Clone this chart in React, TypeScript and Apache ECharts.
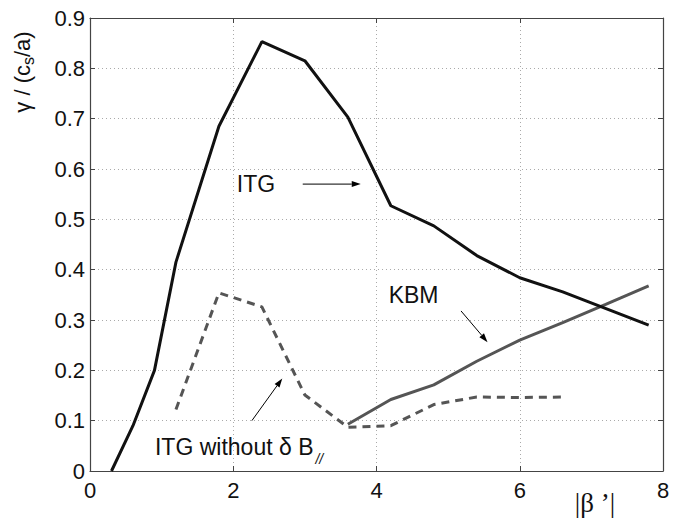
import React, { useEffect, useRef } from "react";
import * as echarts from "echarts";

// Growth rate gamma / (c_s/a) versus |beta'| for three branches
const itgBeta = [0.3, 0.6, 0.9, 1.2, 1.8, 2.4, 3.0, 3.6, 4.2, 4.8, 5.4, 6.0, 6.6, 7.8];
const itgGamma = [0, 0.09, 0.2, 0.415, 0.685, 0.853, 0.815, 0.703, 0.527, 0.487, 0.428, 0.384, 0.356, 0.29];

const kbmBeta = [3.6, 4.2, 4.8, 5.4, 6.0, 6.6, 7.2, 7.8];
const kbmGamma = [0.093, 0.142, 0.171, 0.218, 0.26, 0.295, 0.331, 0.368];

const itgNoBparBeta = [1.2, 1.8, 2.4, 3.0, 3.6, 4.2, 4.8, 5.4, 6.0, 6.6];
const itgNoBparGamma = [0.122, 0.354, 0.326, 0.151, 0.087, 0.09, 0.132, 0.147, 0.146, 0.147];

const xTicks = { min: 0, max: 8, step: 2 };
const yTicks = { min: 0, max: 0.9, step: 0.1 };

// Annotation anchors, in data units
const itgNote = { text: "ITG", at: [2.05, 0.57], from: [2.97, 0.57], to: [3.78, 0.57] };
const kbmNote = { text: "KBM", at: [4.17, 0.35], from: [5.18, 0.318], to: [5.55, 0.256] };
const noBparNote = { text: "ITG without \u03b4 B", sub: "//", at: [0.907, 0.048], from: [2.26, 0.1], to: [2.685, 0.184] };

const SANS = "'Liberation Sans', Arial, Helvetica, sans-serif";
const SERIF = "'Liberation Serif', 'Times New Roman', serif";
const AXIS = "#444";

const pair = (xs: number[], ys: number[]) => xs.map((x, i) => [x, ys[i]]);

function measure(text: string, font: string): number {
  const ctx = document.createElement("canvas").getContext("2d");
  if (!ctx) return text.length * 10;
  ctx.font = font;
  return ctx.measureText(text).width;
}

function arrow(p0: number[], p1: number[]) {
  const dx = p1[0] - p0[0];
  const dy = p1[1] - p0[1];
  const len = Math.hypot(dx, dy) || 1;
  const ux = dx / len;
  const uy = dy / len;
  const hl = 9;
  const hw = 3;
  const bx = p1[0] - ux * hl;
  const by = p1[1] - uy * hl;
  return [
    {
      type: "line",
      shape: { x1: p0[0], y1: p0[1], x2: bx, y2: by },
      style: { stroke: "#000", lineWidth: 1 },
      silent: true,
    },
    {
      type: "polygon",
      shape: {
        points: [
          [p1[0], p1[1]],
          [bx - uy * hw, by + ux * hw],
          [bx + uy * hw, by - ux * hw],
        ],
      },
      style: { fill: "#000" },
      silent: true,
    },
  ];
}

export default function App() {
  const ref = useRef<HTMLDivElement>(null);

  useEffect(() => {
    if (!ref.current) return;
    const chart = echarts.init(ref.current, null, { renderer: "svg" });

    const boxAxis = {
      axisLine: { show: true, onZero: false, lineStyle: { color: AXIS, width: 1.2 } },
      axisTick: { show: true, inside: true, length: 5, lineStyle: { color: AXIS, width: 1 } },
    };

    chart.setOption({
      animation: false,
      backgroundColor: "#ffffff",
      grid: { left: 90, right: 23, top: 18, bottom: 50 },
      xAxis: [
        {
          type: "value",
          position: "bottom",
          min: xTicks.min,
          max: xTicks.max,
          interval: xTicks.step,
          ...boxAxis,
          axisLabel: { color: "#111", fontSize: 22, fontFamily: SANS, margin: 8 },
          splitLine: { show: true, lineStyle: { color: "#aaa", type: [1, 3], width: 1 } },
        },
        {
          type: "value",
          position: "top",
          min: xTicks.min,
          max: xTicks.max,
          interval: xTicks.step,
          ...boxAxis,
          axisLabel: { show: false },
          splitLine: { show: false },
        },
      ],
      yAxis: [
        {
          type: "value",
          position: "left",
          min: yTicks.min,
          max: yTicks.max,
          interval: yTicks.step,
          ...boxAxis,
          axisLabel: {
            color: "#111",
            fontSize: 22,
            fontFamily: SANS,
            margin: 5,
            formatter: (v: number) => (v === 0 ? "0" : v.toFixed(1)),
          },
          splitLine: { show: true, lineStyle: { color: "#aaa", type: [1, 3], width: 1 } },
        },
        {
          type: "value",
          position: "right",
          min: yTicks.min,
          max: yTicks.max,
          interval: yTicks.step,
          ...boxAxis,
          axisLabel: { show: false },
          splitLine: { show: false },
        },
      ],
      series: [
        {
          name: "ITG",
          type: "line",
          data: pair(itgBeta, itgGamma),
          showSymbol: false,
          symbol: "none",
          lineStyle: { color: "#111", width: 3 },
          z: 4,
        },
        {
          name: "KBM",
          type: "line",
          data: pair(kbmBeta, kbmGamma),
          showSymbol: false,
          symbol: "none",
          lineStyle: { color: "#555", width: 3 },
          z: 3,
        },
        {
          name: "ITG without dB",
          type: "line",
          data: pair(itgNoBparBeta, itgNoBparGamma),
          showSymbol: false,
          symbol: "none",
          lineStyle: { color: "#555", width: 3, type: [8, 6] },
          z: 3,
        },
      ],
    });

    const px = (p: number[]) => chart.convertToPixel({ gridIndex: 0 }, p) as number[];
    const noteFont = `23px ${SANS}`;

    const noteText = (text: string, at: number[]) => {
      const p = px(at);
      return {
        type: "text",
        x: p[0],
        y: p[1],
        silent: true,
        style: { text, font: noteFont, fill: "#111", align: "left", verticalAlign: "middle" },
      };
    };

    const nb = px(noBparNote.at);
    const nbWidth = measure(noBparNote.text, noteFont);

    // y-axis title: gamma / (c_s / a), drawn rotated with a subscript
    const yFont = `22px ${SANS}`;
    const subFont = `16px ${SANS}`;
    const t1 = "\u03b3 / (c";
    const t2 = "s";
    const t3 = "/a)";
    const w1 = measure(t1, yFont);
    const w2 = measure(t2, subFont);
    const w3 = measure(t3, yFont);
    const start = -(w1 + w2 + w3) / 2;

    chart.setOption({
      graphic: [
        noteText(itgNote.text, itgNote.at),
        ...arrow(px(itgNote.from), px(itgNote.to)),
        noteText(kbmNote.text, kbmNote.at),
        ...arrow(px(kbmNote.from), px(kbmNote.to)),
        noteText(noBparNote.text, noBparNote.at),
        {
          type: "text",
          x: nb[0] + nbWidth + 2,
          y: nb[1] + 12,
          silent: true,
          style: { text: noBparNote.sub, font: `italic 14px ${SANS}`, fill: "#111", align: "left", verticalAlign: "middle" },
        },
        ...arrow(px(noBparNote.from), px(noBparNote.to)),
        {
          type: "group",
          x: 22,
          y: 72,
          rotation: Math.PI / 2,
          silent: true,
          children: [
            {
              type: "text",
              x: start,
              y: 0,
              style: { text: t1, font: yFont, fill: "#111", align: "left", verticalAlign: "middle" },
            },
            {
              type: "text",
              x: start + w1,
              y: 6,
              style: { text: t2, font: subFont, fill: "#111", align: "left", verticalAlign: "middle" },
            },
            {
              type: "text",
              x: start + w1 + w2,
              y: 0,
              style: { text: t3, font: yFont, fill: "#111", align: "left", verticalAlign: "middle" },
            },
          ],
        },
        {
          type: "text",
          x: 595,
          y: 503,
          silent: true,
          style: { text: "|\u03b2 \u2019|", font: `27px ${SERIF}`, fill: "#111", align: "center", verticalAlign: "middle" },
        },
      ],
    });

    return () => chart.dispose();
  }, []);

  return (
    <div
      ref={ref}
      style={{ position: "fixed", left: 0, top: 0, width: 686, height: 521, background: "#fff" }}
    />
  );
}
